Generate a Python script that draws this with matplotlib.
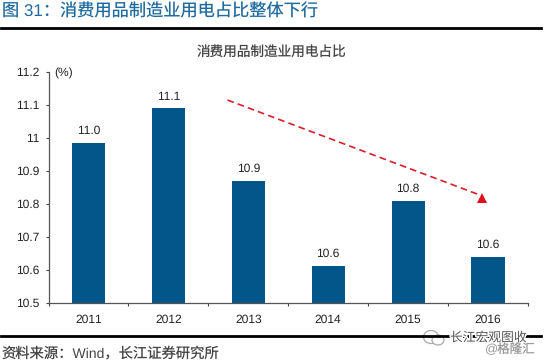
import matplotlib
matplotlib.use("Agg")
import matplotlib.pyplot as plt
from matplotlib.lines import Line2D
from matplotlib.patches import Ellipse
from matplotlib.transforms import IdentityTransform
import matplotlib.patheffects as pe

plt.rcParams['font.family'] = ['Liberation Sans', 'Noto Sans CJK SC', 'DejaVu Sans']
plt.rcParams['text.hinting'] = 'no_hinting'
plt.rcParams['text.hinting_factor'] = 1

years = ['2011', '2012', '2013', '2014', '2015', '2016']
values = [10.985, 11.09, 10.87, 10.612, 10.81, 10.64]
value_labels = ['11.0', '11.1', '10.9', '10.6', '10.8', '10.6']
y_ticks = [10.5, 10.6, 10.7, 10.8, 10.9, 11.0, 11.1, 11.2]
y_labels = ['10.5', '10.6', '10.7', '10.8', '10.9', '11', '11.1', '11.2']
title = '图 31\uff1a消费用品制造业用电占比整体下行'
chart_title = '消费用品制造业用电占比'
source = '资料来源\uff1aWind\uff0c长江证券研究所'
trend_x = [1.74, 4.9]
trend_y = [11.115, 10.827]

W, H = 545, 363
TXT = '#222222'
fig = plt.figure(figsize=(W / 100, H / 100), dpi=100)
ax = fig.add_axes([48.5 / W, 1 - 303 / H, (528 - 48.5) / W, (303 - 72) / H])

ax.bar(range(6), values, width=0.415, color='#02568a')
ax.set_xlim(-0.5, 5.5)
ax.set_ylim(10.5, 11.2)
ax.set_yticks(y_ticks, y_labels, fontsize=8.3, color=TXT)
ax.set_xticks(range(6), years, fontsize=8.3, color=TXT)
ax.set_xticks([i - 0.5 for i in range(7)], minor=True)
ax.tick_params(axis='x', which='major', length=0, pad=8)
ax.tick_params(axis='x', which='minor', length=2.5, direction='out', width=0.8, color='#444444')
ax.tick_params(axis='y', length=2.5, direction='out', width=0.8, color='#444444', pad=4)
for s in ('top', 'right'):
    ax.spines[s].set_visible(False)
for s in ('left', 'bottom'):
    ax.spines[s].set_color('#555555')
    ax.spines[s].set_linewidth(0.9)

for i, (v, lab) in enumerate(zip(values, value_labels)):
    ax.annotate(lab, (i, v), xytext=(0, 4.5), textcoords='offset points',
                ha='center', va='bottom', fontsize=8.3, color=TXT)

ax.plot(trend_x, trend_y, color='#d81e28', lw=1.2, ls=(0, (4, 2.5)), zorder=4)
ax.plot([4.93], [10.818], marker='^', ms=7, color='#e00f1e', mew=0, zorder=5, clip_on=False)

def px(x, y):
    return x / W, 1 - y / H

fig.text(*px(54, 73), '(%)', fontsize=8.3, color=TXT, va='center', ha='left')
fig.text(*px(272, 52), chart_title, fontsize=9.8, color='#444444', ha='center', va='center')
fig.text(*px(2, 12), title, fontsize=12.4, color='#1f6b9e', ha='left', va='center')
fig.text(*px(2, 353), source, fontsize=10.3, color='#444444', ha='left', va='center')

fig.add_artist(Line2D([1 / W, 541 / W], [1 - 28 / H] * 2, color='black', lw=2))
fig.add_artist(Line2D([1 / W, 541 / W], [1 - 336 / H] * 2, color='black', lw=2))

# watermark
halo = [pe.withStroke(linewidth=2, foreground='white')]
for cx, cy, w, h in [(431, H - 337, 15, 13), (438, H - 340, 12, 10)]:
    fig.add_artist(Ellipse((cx, cy), w, h, transform=IdentityTransform(),
                           facecolor='white', edgecolor='#aaaaaa', lw=0.9))
fig.text(*px(450, 338), '长江宏观图收', fontsize=9.2, color='#555555', ha='left', va='center', path_effects=halo)
fig.text(*px(485, 350), '@格隆汇', fontsize=9, color='#999999', ha='left', va='center')

fig.savefig('out.png', dpi=100)
